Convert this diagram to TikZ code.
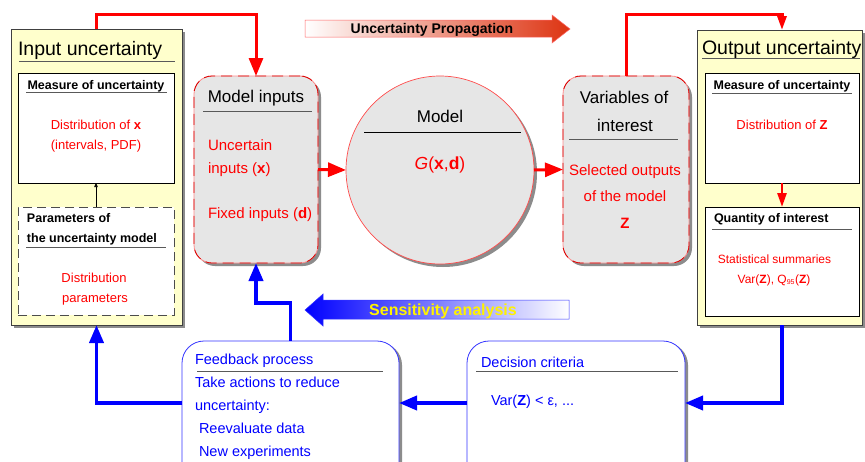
\documentclass[tikz,border=0pt]{standalone}
\usepackage{fontspec}
\setmainfont{Liberation Sans}
\usetikzlibrary{arrows.meta,shadows,calc}
\definecolor{yel}{HTML}{FFFFCC}
\definecolor{gfill}{HTML}{E6E6E6}
\definecolor{propred}{HTML}{DD3311}
\definecolor{bborder}{HTML}{3333FF}
\begin{document}
\begin{tikzpicture}[x=1pt,y=-1pt,
  every node/.style={inner sep=0pt,outer sep=0pt},
  shad/.style={drop shadow={shadow xshift=3pt,shadow yshift=-3pt,fill=black!45,opacity=1}},
  ybox/.style={draw=black!75,fill=yel,line width=0.8pt,shad},
  wbox/.style={draw=black,fill=white,line width=0.8pt},
  dbox/.style={draw=black!70,fill=white,line width=0.8pt,dash pattern=on 9pt off 5pt},
  gbox/.style={fill=gfill,draw=red!45,line width=0.8pt,rounded corners=18pt,shad},
  gdash/.style={draw=red!85!black,line width=0.8pt,dash pattern=on 11pt off 6pt,rounded corners=18pt},
  bbox/.style={draw=bborder,fill=white,line width=0.8pt,rounded corners=22pt,drop shadow={shadow xshift=3pt,shadow yshift=-2pt,fill=black!45,opacity=1}},
  redarrow/.style={draw=red,line width=3pt,line join=miter,-{Triangle[length=18pt,width=14pt]}},
  redsmall/.style={draw=red,line width=2.6pt,line join=miter,-{Triangle[length=14pt,width=9pt]}},
  bluearrow/.style={draw=blue,line width=3.8pt,line join=miter,-{Triangle[length=18pt,width=14pt]}},
  uline/.style={draw=black!65,line width=0.8pt},
  bigtitle/.style={anchor=mid west,font=\fontsize{19.5}{23}\selectfont},
  boldtitle/.style={font=\fontsize{12.5}{15}\selectfont\bfseries},
  rtext/.style={text=red,font=\fontsize{13}{15}\selectfont},
  rmid/.style={text=red,font=\fontsize{15}{18}\selectfont},
  mtitle/.style={font=\fontsize{17}{20}\selectfont},
  btext/.style={text=blue,anchor=mid west,font=\fontsize{14.5}{17}\selectfont},
]
\clip (0,0) rectangle (865,461);
\fill[white] (0,0) rectangle (865,461);

% ---------- Input uncertainty ----------
\node[ybox,minimum width=171pt,minimum height=296pt] (input) at (96.5,177) {};
\node[bigtitle] (intitle) at (18,52.5) {Input uncertainty};
\draw[uline] (19,61) -- (175,61);
\node[wbox,minimum width=156pt,minimum height=110pt] (measure) at (96,128) {};
\node[boldtitle,anchor=mid] (meastitle) at (96,86.5) {Measure of uncertainty};
\draw[uline] (26,92.5) -- (167,92.5);
\node[rtext,anchor=mid] (distx) at (96,127) {Distribution of \textbf{x}};
\node[rtext,anchor=mid] (intv) at (96,147) {(intervals, PDF)};
\node[dbox,minimum width=156pt,minimum height=108pt] (params) at (96,261) {};
\node[boldtitle,anchor=mid west] (partitle1) at (27,219.5) {Parameters of};
\node[boldtitle,anchor=mid west] (partitle2) at (27,239.5) {the uncertainty model};
\draw[uline] (26,247) -- (166,247);
\node[rtext,anchor=mid] (dp1) at (94,280) {Distribution};
\node[rtext,anchor=mid] (dp2) at (95,299.5) {parameters};
\draw[line width=0.6pt,-{Triangle[length=4pt,width=3.5pt]}] (params.north) -- (measure.south);

% ---------- Model inputs ----------
\node[gbox,minimum width=124pt,minimum height=187pt] (minputs) at (256,169.5) {};
\node[gdash,minimum width=124pt,minimum height=187pt] (minputsb) at (256,169.5) {};
\node[mtitle,anchor=mid] (mititle) at (256,100) {Model inputs};
\draw[uline] (203,111) -- (312,111);
\node[rmid,anchor=mid west] (unc1) at (208,148) {Uncertain};
\node[rmid,anchor=mid west] (unc2) at (208,170.5) {inputs (\textbf{x})};
\node[rmid,anchor=mid west] (fixd) at (208,216) {Fixed inputs (\textbf{d})};

% ---------- Model ----------
\node[circle,fill=gfill,draw=red!70,line width=0.7pt,minimum size=188pt,shad] (model) at (440,170) {};
\node[mtitle,anchor=mid] (modtitle) at (440,119.5) {Model};
\draw[draw=black,line width=0.8pt] (364,132) -- (521,132);
\node[text=red,anchor=mid,font=\fontsize{17.5}{20}\selectfont] (gxd) at (440,167) {\textit{G}(\textbf{x},\textbf{d})};

% ---------- Variables of interest ----------
\node[gbox,minimum width=126pt,minimum height=187pt] (vars) at (626,169.5) {};
\node[gdash,minimum width=126pt,minimum height=187pt] (varsb) at (626,169.5) {};
\node[mtitle,anchor=mid] (vt1) at (624,100.5) {Variables of};
\node[mtitle,anchor=mid] (vt2) at (625,129) {interest};
\draw[uline] (569,139) -- (678,139);
\node[rmid,anchor=mid] (so1) at (625,173) {Selected outputs};
\node[rmid,anchor=mid] (so2) at (625,199) {of the model};
\node[rmid,anchor=mid] (so3) at (625,225.5) {\textbf{Z}};

% ---------- Output uncertainty ----------
\node[ybox,minimum width=165pt,minimum height=295pt] (output) at (779.5,177.5) {};
\node[bigtitle] (outtitle) at (702,52) {Output uncertainty};
\draw[uline] (702,58.5) -- (860,58.5);
\node[wbox,minimum width=154pt,minimum height=110pt] (omeasure) at (782,128) {};
\node[boldtitle,anchor=mid] (omtitle) at (782,86.5) {Measure of uncertainty};
\draw[uline] (712,93) -- (852,93);
\node[rtext,anchor=mid] (distz) at (782,127) {Distribution of \textbf{Z}};
\node[wbox,minimum width=154pt,minimum height=109pt] (quantity) at (782,261.5) {};
\node[boldtitle,anchor=mid west] (qtitle) at (714,220) {Quantity of interest};
\draw[uline] (712,229) -- (852,229);
\node[text=red,anchor=mid,font=\fontsize{12}{14}\selectfont] (ss1) at (774.5,260.5) {Statistical summaries};
\node[text=red,anchor=mid,font=\fontsize{12}{14}\selectfont] (ss2) at (774,280.5) {Var(\textbf{Z}), Q\textsubscript{\fontsize{7}{8}\selectfont 95}(\textbf{Z})};
\draw[redsmall] (omeasure.south) -- (quantity.north);

% ---------- Bottom boxes ----------
\node[bbox,minimum width=217pt,minimum height=150pt] (feedback) at (290.5,416) {};
\node[btext] (fb1) at (195,362) {Feedback process};
\draw[uline] (197,371) -- (383,371);
\node[btext] (fb2) at (195,384.5) {Take actions to reduce};
\node[btext] (fb3) at (195,408) {uncertainty:};
\node[btext] (fb4) at (199,430.5) {Reevaluate data};
\node[btext] (fb5) at (199,453.5) {New experiments};

\node[bbox,minimum width=218pt,minimum height=150pt] (decision) at (576,416) {};
\node[btext] (dc1) at (481,364.5) {Decision criteria};
\draw[uline] (476,371) -- (678,371);
\node[btext] (dc2) at (491,403) {Var(\textbf{Z}) < ε, ...};

% ---------- Gradient arrows ----------
\shade[left color=white,right color=propred,draw=red!60,line width=0.5pt]
  (305,20) -- (552,20) -- (552,15) -- (570,29) -- (552,43) -- (552,37) -- (305,37) -- cycle;
\node[anchor=mid,font=\fontsize{14}{16}\selectfont\bfseries] (uprop) at (432,31) {Uncertainty Propagation};
\shade[left color=blue,right color=white,draw=blue!80,line width=0.5pt]
  (569,300) -- (323,300) -- (323,294) -- (305,310) -- (323,326) -- (323,319) -- (569,319) -- cycle;
\node[anchor=mid,text=yellow,font=\fontsize{16}{18}\selectfont\bfseries] (sens) at (443,312.5) {Sensitivity analysis};

% ---------- Connectors ----------
\coordinate (lv) at (0,403);
\coordinate (topy) at (0,14);
\coordinate (fby) at (0,303);
\draw[redarrow] (input.north) |- (topy -| minputs.north) -- (minputs.north);
\draw[redarrow] (minputs.east) -- (model.west);
\draw[redarrow] (model.east) -- (vars.west);
\draw[redsmall,line width=3pt] (vars.north) |- (topy -| quantity.north) -- (output.north -| quantity.north);
\draw[bluearrow] (output.south -| quantity.south) |- (decision.east |- lv);
\draw[bluearrow] (decision.west |- lv) -- (feedback.east |- lv);
\draw[bluearrow] (feedback.west |- lv) -| (input.south);
\draw[bluearrow] (feedback.north) |- (fby -| minputs.south) -- (minputs.south);
\end{tikzpicture}
\end{document}
